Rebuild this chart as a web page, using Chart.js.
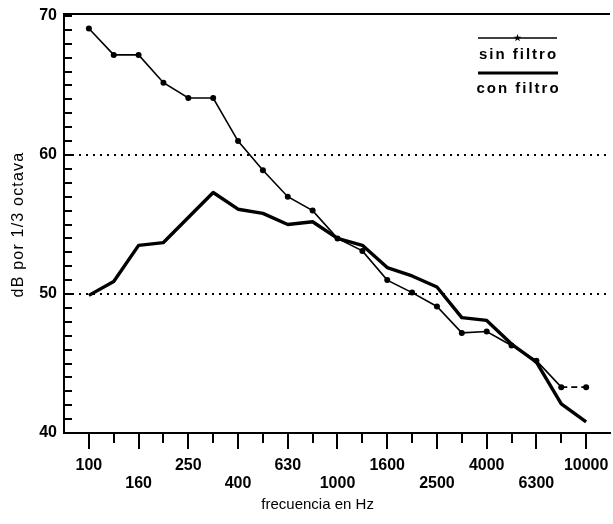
<!DOCTYPE html>
<html>
<head>
<meta charset="utf-8">
<script src="https://cdn.jsdelivr.net/npm/chart.js@4/dist/chart.umd.min.js"></script>
<style>
html,body{margin:0;padding:0;background:#fff;overflow:hidden;}
#wrap{width:613px;height:524px;position:relative;}
</style>
</head>
<body>
<div id="wrap"><canvas id="c" width="613" height="524"></canvas></div>
<script>
const frequencies = ['100','125','160','200','250','315','400','500','630','800','1000','1250','1600','2000','2500','3150','4000','5000','6300','8000','10000'];
const tickLabels = ['100','','160','','250','','400','','630','','1000','','1600','','2500','','4000','','6300','','10000'];
const sinFiltro = [69.1, 67.2, 67.2, 65.2, 64.1, 64.1, 61.0, 58.9, 57.0, 56.0, 54.0, 53.1, 51.0, 50.1, 49.1, 47.2, 47.3, 46.3, 45.2, 43.3, 43.3];
const conFiltro = [49.9, 50.9, 53.5, 53.7, 55.5, 57.3, 56.1, 55.8, 55.0, 55.2, 54.0, 53.5, 51.9, 51.3, 50.5, 48.3, 48.1, 46.4, 45.1, 42.1, 40.8];
const yTickLabels = ['40','50','60','70'];
const seriesNames = ['sin filtro','con filtro'];
const xTitle = 'frecuencia en Hz';
const yTitle = 'dB por 1/3 octava';

const FONT = 'Liberation Sans';

const decor = {
  id: 'decor',
  afterDraw(chart) {
    const ctx = chart.ctx, a = chart.chartArea;
    const xs = chart.scales.x, ys = chart.scales.y;
    ctx.save();
    ctx.strokeStyle = '#000';
    ctx.lineWidth = 2;
    ctx.beginPath(); ctx.moveTo(a.left - 1, a.top - 2); ctx.lineTo(a.right, a.top - 2); ctx.stroke();
    ctx.beginPath(); ctx.moveTo(a.left, a.top - 2); ctx.lineTo(a.left, a.top); ctx.stroke();
    for (let v = 40; v <= 70; v++) {
      const y = Math.round(ys.getPixelForValue(v));
      ctx.beginPath(); ctx.moveTo(a.left, y); ctx.lineTo(a.left + 8, y); ctx.stroke();
    }
    frequencies.forEach((f, i) => {
      const x = Math.round(xs.getPixelForValue(i));
      const len = i % 2 === 0 ? 16 : 10;
      ctx.beginPath(); ctx.moveTo(x, a.bottom); ctx.lineTo(x, a.bottom + len); ctx.stroke();
    });
    ctx.fillStyle = '#000';
    ctx.font = '15px "' + FONT + '"';
    ctx.textAlign = 'center';
    ctx.textBaseline = 'middle';
    ctx.fillText(xTitle, xs.getPixelForValue(9.2), 505);
    // y title
    ctx.save();
    ctx.translate(19, (a.top + a.bottom) / 2);
    ctx.rotate(-Math.PI / 2);
    ctx.font = '16px "' + FONT + '"';
    ctx.letterSpacing = '1.2px';
    ctx.fillText(yTitle, 0, 0);
    ctx.restore();
    // legend
    const lx1 = 478, lx2 = 557, lc = (lx1 + lx2) / 2;
    ctx.lineWidth = 1.6;
    ctx.beginPath(); ctx.moveTo(lx1, 38); ctx.lineTo(lx2, 38); ctx.stroke();
    ctx.beginPath();
    for (let k = 0; k < 10; k++) {
      const r = k % 2 === 0 ? 4 : 1.6;
      const ang = -Math.PI / 2 + k * Math.PI / 5;
      const px = lc + r * Math.cos(ang), py = 38 + r * Math.sin(ang);
      if (k === 0) ctx.moveTo(px, py); else ctx.lineTo(px, py);
    }
    ctx.closePath(); ctx.fill();
    ctx.lineWidth = 3;
    ctx.beginPath(); ctx.moveTo(lx1, 73); ctx.lineTo(lx2 + 1, 73); ctx.stroke();
    ctx.font = 'bold 15px "' + FONT + '"';
    ctx.letterSpacing = '2px';
    ctx.fillText(seriesNames[0], lc + 1, 55);
    ctx.fillText(seriesNames[1], lc + 1, 89);
    ctx.restore();
  }
};

new Chart(document.getElementById('c'), {
  type: 'line',
  data: {
    datasets: [
      {
        label: seriesNames[0],
        data: sinFiltro.map((v, i) => ({x: i, y: v})),
        borderColor: '#000',
        backgroundColor: '#000',
        borderWidth: 1.6,
        pointRadius: 3,
        pointHoverRadius: 3,
        pointBackgroundColor: '#000',
        pointBorderWidth: 0,
        tension: 0,
        segment: { borderDash: c => c.p1DataIndex === sinFiltro.length - 1 ? [6, 4] : undefined }
      },
      {
        label: seriesNames[1],
        data: conFiltro.map((v, i) => ({x: i, y: v})),
        borderColor: '#000',
        borderWidth: 3.4,
        pointRadius: 0,
        tension: 0,
        borderJoinStyle: 'round'
      }
    ]
  },
  options: {
    animation: false,
    responsive: false,
    devicePixelRatio: 1,
    layout: { padding: { top: 16, right: 0, left: 0, bottom: 0 } },
    plugins: { legend: { display: false }, tooltip: { enabled: false } },
    scales: {
      x: {
        type: 'linear',
        min: -1,
        max: 20.96,
        afterFit: s => { s.height = 91; s.paddingLeft = 0; s.paddingRight = 0; },
        afterBuildTicks: s => { s.ticks = frequencies.map((f, i) => ({value: i})); },
        grid: { display: false, drawTicks: false },
        border: { display: true, color: '#000', width: 2 },
        ticks: {
          autoSkip: false,
          maxRotation: 0,
          padding: 24,
          color: '#000',
          font: { family: FONT, size: 16, weight: 'bold', lineHeight: 1.125 },
          callback: (v) => {
            const i = Math.round(v);
            const t = tickLabels[i];
            if (!t) return '';
            return i % 4 === 0 ? t : ['', t];
          }
        }
      },
      y: {
        min: 40,
        max: 70,
        afterFit: s => { s.width = 64; s.paddingTop = 0; s.paddingBottom = 0; },
        afterBuildTicks: s => { s.ticks = yTickLabels.map(t => ({value: Number(t)})); },
        grid: {
          drawTicks: false,
          color: c => (c.tick && (c.tick.value === 50 || c.tick.value === 60)) ? '#000' : 'rgba(0,0,0,0)',
          lineWidth: 2
        },
        border: { display: true, color: '#000', width: 2, dash: [2, 5] },
        ticks: {
          padding: 7,
          color: '#000',
          font: { family: FONT, size: 16, weight: 'bold' },
          callback: v => String(v)
        }
      }
    }
  },
  plugins: [decor]
});
</script>
</body>
</html>
